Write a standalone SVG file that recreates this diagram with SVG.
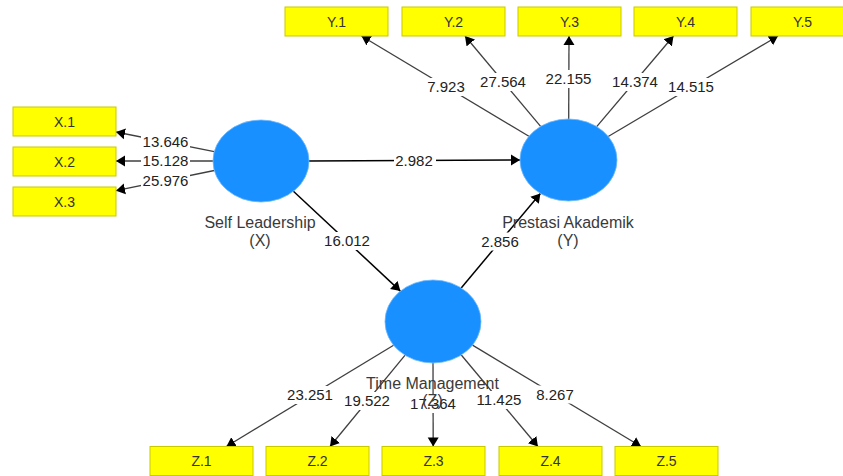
<svg xmlns="http://www.w3.org/2000/svg" width="843" height="476" viewBox="0 0 843 476">
<style>
.bg{fill:#ffffff}
.box{fill:#ffff00;stroke:#c9c900;stroke-width:1}
.btxt{font-family:"Liberation Sans",Arial,sans-serif;font-size:14px;fill:#333333;text-anchor:middle}
.lv{fill:#1890ff;stroke:#6cb8ff;stroke-width:0.8}
.ntxt{font-family:"Liberation Sans",Arial,sans-serif;font-size:16px;fill:#3a3a3a;text-anchor:middle}
.ind{stroke:#3f3f3f;stroke-width:1.3;fill:none;marker-end:url(#ah)}
.path{stroke:#000000;stroke-width:1.5;fill:none;marker-end:url(#ah)}
.lbg{fill:#ffffff}
.ltxt{font-family:"Liberation Sans",Arial,sans-serif;font-size:15px;fill:#222222;text-anchor:middle}
</style>
<defs>
<marker id="ah" markerUnits="userSpaceOnUse" markerWidth="10" markerHeight="12" refX="9" refY="6" orient="auto">
<path d="M0,0.5 L9,6 L0,11.5 z" fill="#000000"/>
</marker>
</defs>
<rect class="bg" x="0" y="0" width="843" height="476"/>

<g id="connectors">
<line class="ind" x1="214.3" y1="151.7" x2="116" y2="132"/>
<line class="ind" x1="213" y1="161" x2="116" y2="161"/>
<line class="ind" x1="214.3" y1="170.5" x2="116" y2="190.7"/>
<line class="ind" x1="528.9" y1="136.3" x2="361.5" y2="36"/>
<line class="ind" x1="540.6" y1="126.4" x2="465" y2="36"/>
<line class="ind" x1="568.7" y1="119" x2="569" y2="36"/>
<line class="ind" x1="596.7" y1="126.6" x2="673.5" y2="36"/>
<line class="ind" x1="608.2" y1="136.5" x2="778" y2="36"/>
<line class="ind" x1="393.6" y1="345.2" x2="226.4" y2="446.5"/>
<line class="ind" x1="405.1" y1="355.2" x2="330" y2="446.5"/>
<line class="ind" x1="433" y1="363" x2="433.2" y2="446.5"/>
<line class="ind" x1="461.3" y1="355" x2="537.9" y2="446.5"/>
<line class="ind" x1="472.5" y1="345.1" x2="641" y2="446.5"/>
<line class="path" x1="309" y1="161" x2="520" y2="160"/>
<line class="path" x1="293.4" y1="191.2" x2="400.4" y2="291.1"/>
<line class="path" x1="461.2" y1="287.9" x2="540.4" y2="193.4"/>

<rect class="lbg" x="141" y="133" width="49" height="18"/><text class="ltxt" x="165.5" y="147">13.646</text>
<rect class="lbg" x="141" y="152" width="49" height="18"/><text class="ltxt" x="165.5" y="166">15.128</text>
<rect class="lbg" x="141" y="172" width="49" height="18"/><text class="ltxt" x="165.5" y="186">25.976</text>
<rect class="lbg" x="394" y="152" width="42" height="18"/><text class="ltxt" x="414" y="166">2.982</text>
<rect class="lbg" x="322.5" y="232" width="49" height="18"/><text class="ltxt" x="347" y="246">16.012</text>
<rect class="lbg" x="479" y="232.5" width="42" height="18"/><text class="ltxt" x="500" y="246.5">2.856</text>
<rect class="lbg" x="425" y="78" width="42" height="18"/><text class="ltxt" x="446" y="92">7.923</text>
<rect class="lbg" x="478.5" y="73" width="49" height="18"/><text class="ltxt" x="503" y="87">27.564</text>
<rect class="lbg" x="544" y="70" width="49" height="18"/><text class="ltxt" x="568.5" y="84">22.155</text>
<rect class="lbg" x="610.5" y="73" width="49" height="18"/><text class="ltxt" x="635" y="87">14.374</text>
<rect class="lbg" x="666.5" y="78" width="49" height="18"/><text class="ltxt" x="691" y="92">14.515</text>
<rect class="lbg" x="285.5" y="386" width="49" height="18"/><text class="ltxt" x="310" y="400">23.251</text>
<rect class="lbg" x="342.5" y="392" width="49" height="18"/><text class="ltxt" x="367" y="406">19.522</text>
<rect class="lbg" x="408.5" y="395" width="49" height="18"/><text class="ltxt" x="433" y="409">17.364</text>
<rect class="lbg" x="474.5" y="391" width="49" height="18"/><text class="ltxt" x="499" y="405">11.425</text>
<rect class="lbg" x="534" y="385.5" width="42" height="18"/><text class="ltxt" x="555" y="399.5">8.267</text>
</g>

<g id="X.1"><rect class="box" x="13" y="107" width="103" height="29"/><text class="btxt" x="64.5" y="127">X.1</text></g>
<g id="X.2"><rect class="box" x="13" y="147" width="103" height="29"/><text class="btxt" x="64.5" y="167">X.2</text></g>
<g id="X.3"><rect class="box" x="13" y="187" width="103" height="29"/><text class="btxt" x="64.5" y="207">X.3</text></g>

<g id="Y.1"><rect class="box" x="285" y="7" width="103" height="29"/><text class="btxt" x="336.5" y="27">Y.1</text></g>
<g id="Y.2"><rect class="box" x="402" y="7" width="103" height="29"/><text class="btxt" x="453.5" y="27">Y.2</text></g>
<g id="Y.3"><rect class="box" x="518" y="7" width="103" height="29"/><text class="btxt" x="569.5" y="27">Y.3</text></g>
<g id="Y.4"><rect class="box" x="634" y="7" width="103" height="29"/><text class="btxt" x="685.5" y="27">Y.4</text></g>
<g id="Y.5"><rect class="box" x="751" y="7" width="103" height="29"/><text class="btxt" x="802.5" y="27">Y.5</text></g>

<g id="Z.1"><rect class="box" x="150" y="446.5" width="103" height="29"/><text class="btxt" x="201.5" y="466">Z.1</text></g>
<g id="Z.2"><rect class="box" x="266" y="446.5" width="103" height="29"/><text class="btxt" x="317.5" y="466">Z.2</text></g>
<g id="Z.3"><rect class="box" x="382" y="446.5" width="103" height="29"/><text class="btxt" x="433.5" y="466">Z.3</text></g>
<g id="Z.4"><rect class="box" x="499" y="446.5" width="103" height="29"/><text class="btxt" x="550.5" y="466">Z.4</text></g>
<g id="Z.5"><rect class="box" x="615" y="446.5" width="103" height="29"/><text class="btxt" x="666.5" y="466">Z.5</text></g>

<g id="SelfLeadership">
<ellipse class="lv" cx="261" cy="161" rx="48" ry="41"/>
<text class="ntxt" x="260" y="228">Self Leadership</text>
<text class="ntxt" x="260" y="245.5">(X)</text>
</g>
<g id="PrestasiAkademik">
<ellipse class="lv" cx="568.5" cy="160" rx="48.5" ry="41"/>
<text class="ntxt" x="568" y="228">Prestasi Akademik</text>
<text class="ntxt" x="568" y="245.5">(Y)</text>
</g>
<g id="TimeManagement">
<ellipse class="lv" cx="433" cy="321.5" rx="48" ry="41.5"/>
<text class="ntxt" x="432.5" y="388.5">Time Management</text>
<text class="ntxt" x="432.5" y="406">(Z)</text>
</g>
</svg>
